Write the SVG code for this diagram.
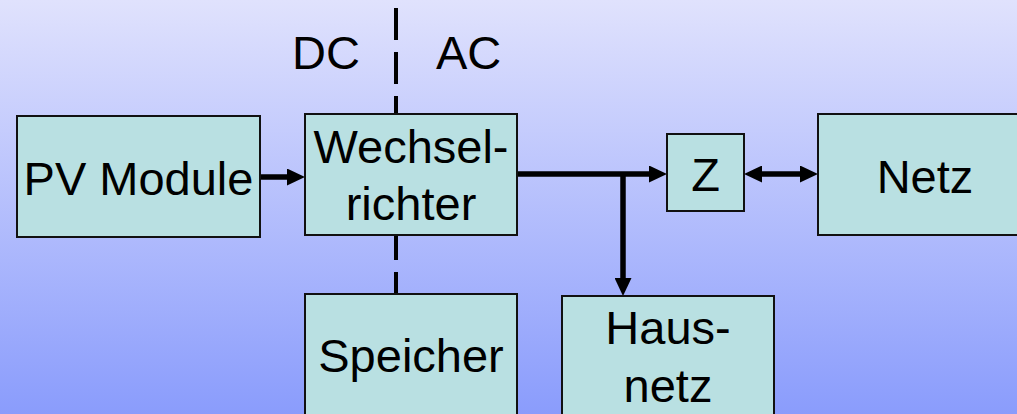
<svg xmlns="http://www.w3.org/2000/svg" width="1017" height="414" viewBox="0 0 1017 414">
  <defs>
    <linearGradient id="bg" x1="0" y1="0" x2="0" y2="1">
      <stop offset="0" stop-color="#e0e2fd"/>
      <stop offset="1" stop-color="#8a9cfc"/>
    </linearGradient>
    <marker id="ah" markerUnits="userSpaceOnUse" markerWidth="18" markerHeight="17" refX="8" refY="8.5" orient="auto-start-reverse" viewBox="0 0 18 17">
      <path d="M0,0 L18,8.5 L0,17 Z" fill="#000"/>
    </marker>
    <style>
      .box { fill: #b9e0e2; stroke: #111; stroke-width: 2; }
      .lbl { font-family: "Liberation Sans", Arial, sans-serif; font-size: 47px; fill: #000; text-anchor: middle; }
      .side { font-family: "Liberation Sans", Arial, sans-serif; font-size: 47px; fill: #000; }
      .wire { stroke: #000; stroke-width: 5.5; fill: none; }
      .dash { stroke: #000; stroke-width: 4; stroke-dasharray: 32 12; fill: none; }
    </style>
  </defs>
  <rect x="0" y="0" width="1017" height="414" fill="url(#bg)"/>
  <g id="divider">
    <line class="dash" x1="396" y1="8" x2="396" y2="294"/>
    <text class="side" x="292" y="69">DC</text>
    <text class="side" x="436" y="69">AC</text>
  </g>
  <g id="connectors">
    <line class="wire" x1="260" y1="177" x2="295" y2="177" marker-end="url(#ah)"/>
    <line class="wire" x1="517" y1="174" x2="657" y2="174" marker-end="url(#ah)"/>
    <line class="wire" x1="623" y1="174" x2="623" y2="286" marker-end="url(#ah)"/>
    <line class="wire" x1="754" y1="174" x2="808" y2="174" marker-start="url(#ah)" marker-end="url(#ah)"/>
  </g>
  <g id="pv">
    <rect class="box" x="17" y="116" width="243" height="121"/>
    <text class="lbl" x="138.5" y="195">PV Module</text>
  </g>
  <g id="wechselrichter">
    <rect class="box" x="305" y="114" width="212" height="121"/>
    <text class="lbl" x="411" y="163">Wechsel-</text>
    <text class="lbl" x="411" y="220">richter</text>
  </g>
  <g id="speicher">
    <rect class="box" x="305" y="294" width="212" height="130"/>
    <text class="lbl" x="411" y="372">Speicher</text>
  </g>
  <g id="z">
    <rect class="box" x="667" y="134" width="77" height="77"/>
    <text class="lbl" x="705.5" y="191">Z</text>
  </g>
  <g id="netz">
    <rect class="box" x="818" y="114" width="214" height="121"/>
    <text class="lbl" x="925" y="193">Netz</text>
  </g>
  <g id="hausnetz">
    <rect class="box" x="562" y="296" width="212" height="130"/>
    <text class="lbl" x="668" y="344">Haus-</text>
    <text class="lbl" x="668" y="402">netz</text>
  </g>
</svg>
